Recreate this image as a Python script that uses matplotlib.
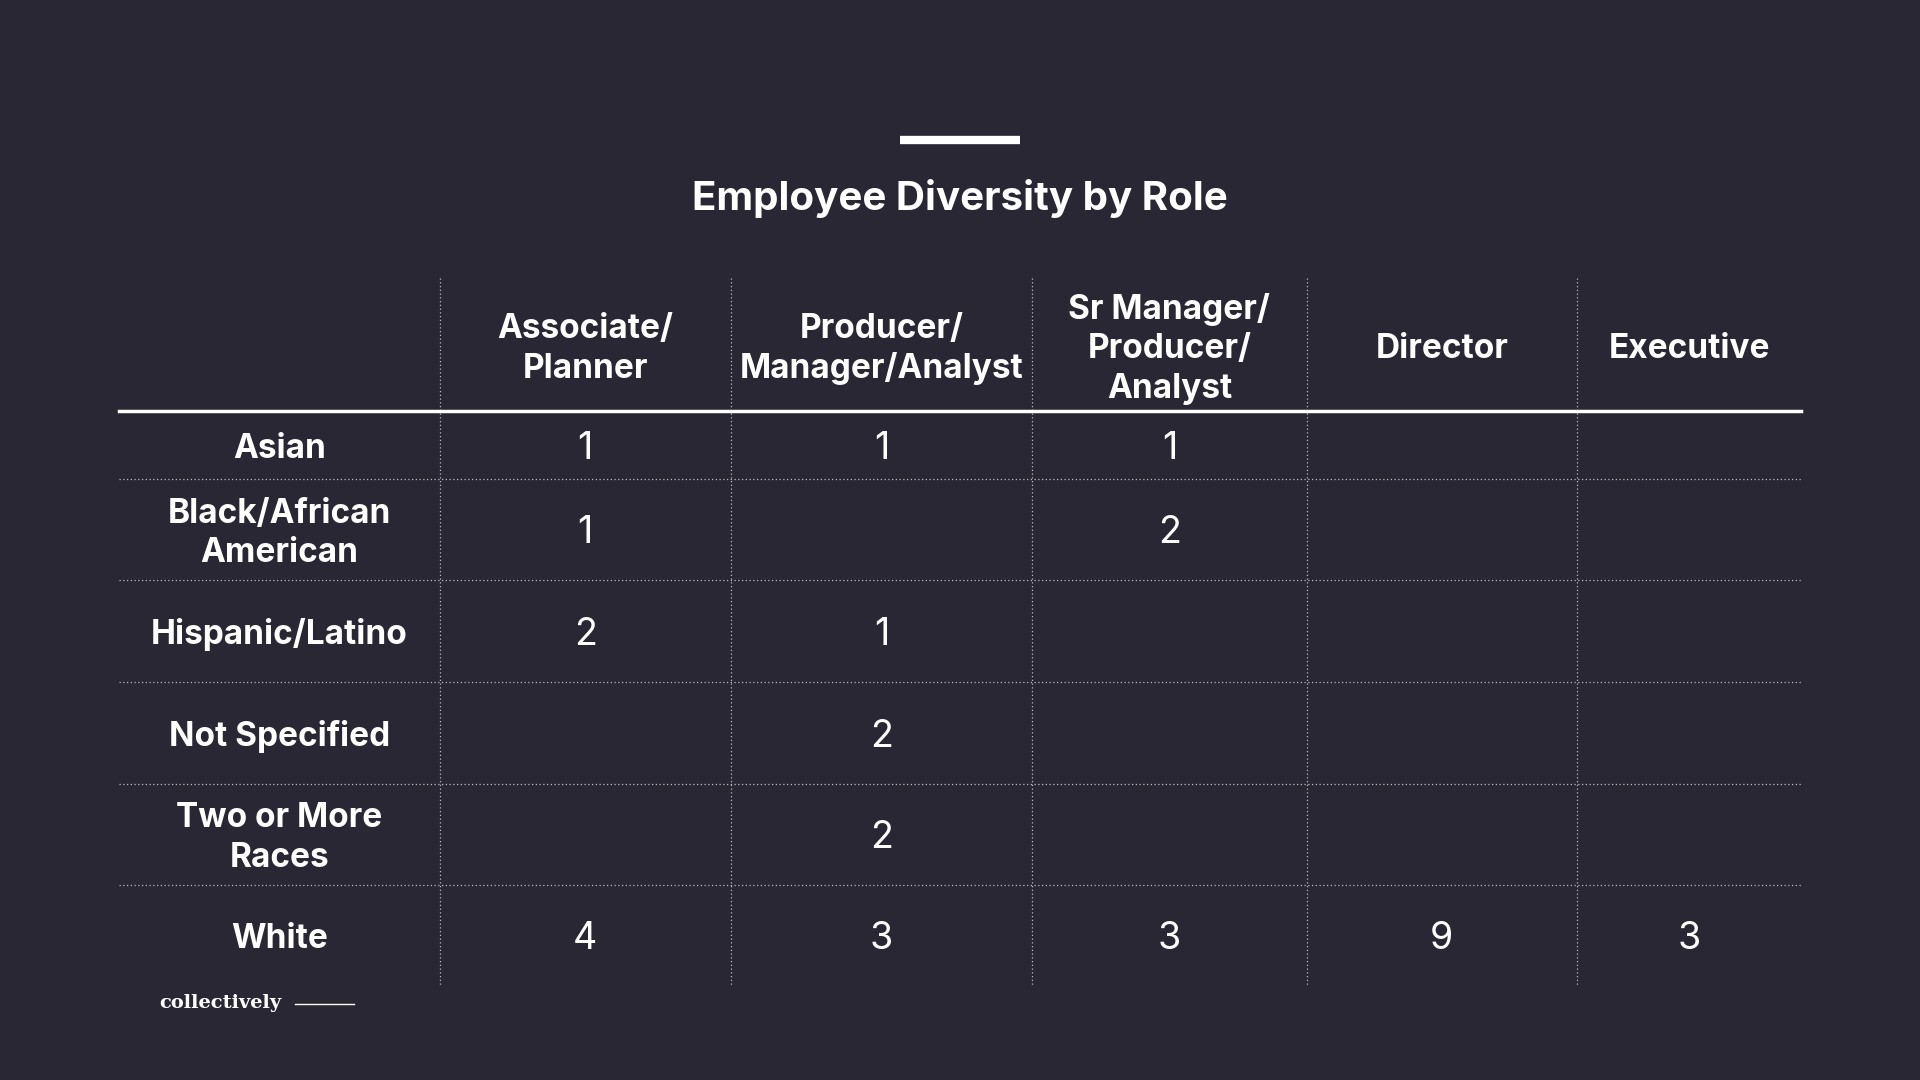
import matplotlib
matplotlib.use("Agg")
import matplotlib.pyplot as plt
from matplotlib.lines import Line2D

roles = ["Associate/\nPlanner", "Producer/\nManager/Analyst", "Sr Manager/\nProducer/\nAnalyst", "Director", "Executive"]
groups = ["Asian", "Black/African\nAmerican", "Hispanic/Latino", "Not Specified", "Two or More\nRaces", "White"]
counts = [
    [1, 1, 1, None, None],
    [1, None, 2, None, None],
    [2, 1, None, None, None],
    [None, 2, None, None, None],
    [None, 2, None, None, None],
    [4, 3, 3, 9, 3],
]
title = "Employee Diversity by Role"

BG = "#282733"
W, H = 1568.0, 882.0
fig = plt.figure(figsize=(19.2, 10.8), dpi=100, facecolor=BG)
def fx(x): return x / W
def fy(y): return 1 - y / H
FONT = "Inter"

col_edges = [97, 359, 597, 843, 1067, 1288, 1471]
row_edges = [336, 391, 474, 557, 640, 723, 805]

fig.add_artist(Line2D([fx(735), fx(833)], [fy(114)] * 2, color="white", lw=6, solid_capstyle="butt"))
fig.text(fx(784), fy(162), title, color="white", fontsize=29, fontweight="bold", family=FONT, ha="center", va="center")

for x in col_edges[1:-1]:
    fig.add_artist(Line2D([fx(x)] * 2, [fy(227), fy(805)], color="#bbbbbb", lw=0.9, ls=(0, (1, 2))))
fig.add_artist(Line2D([fx(97), fx(1471)], [fy(336)] * 2, color="white", lw=2.5))
for y in row_edges[1:-1]:
    fig.add_artist(Line2D([fx(97), fx(1471)], [fy(y)] * 2, color="#bbbbbb", lw=0.9, ls=(0, (1, 2))))

for j, r in enumerate(roles):
    cx = (col_edges[j + 1] + col_edges[j + 2]) / 2
    fig.text(fx(cx), fy(285), r, color="white", fontsize=24, fontweight="bold", family=FONT,
             ha="center", va="center", linespacing=1.3)

for i, g in enumerate(groups):
    cy = (row_edges[i] + row_edges[i + 1]) / 2 + 3
    fig.text(fx((col_edges[0] + col_edges[1]) / 2), fy(cy), g, color="white", fontsize=24, fontweight="bold",
             family=FONT, ha="center", va="center", linespacing=1.3)
    for j, v in enumerate(counts[i]):
        if v is None:
            continue
        cx = (col_edges[j + 1] + col_edges[j + 2]) / 2
        fig.text(fx(cx), fy(cy), str(v), color="white", fontsize=27, family=FONT, ha="center", va="center")

fig.text(fx(130), fy(819), "collectively", color="white", fontsize=14, fontweight="bold", family="DejaVu Serif",
         ha="left", va="center")
fig.add_artist(Line2D([fx(241), fx(289)], [fy(820)] * 2, color="white", lw=1))

fig.savefig("out.png", dpi=100, facecolor=BG)
